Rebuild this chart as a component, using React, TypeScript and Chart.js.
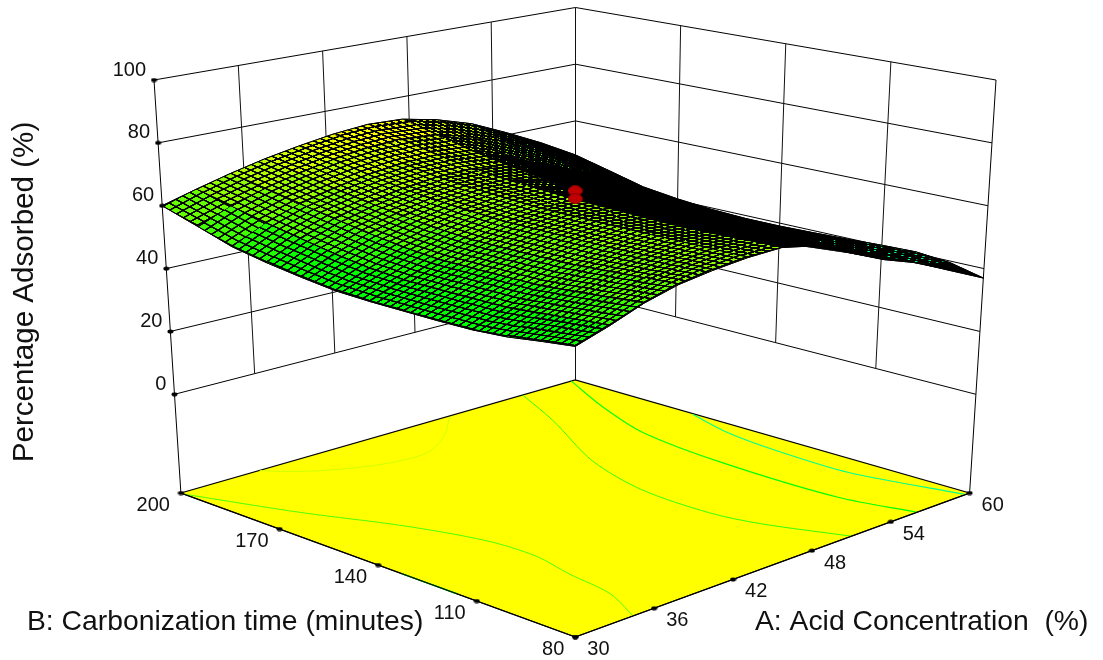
import React, { useEffect, useRef } from "react";
import { Chart, registerables } from "chart.js";

Chart.register(...registerables);

// ---- axis values
const acidTicks = [30, 36, 42, 48, 54, 60];
const timeTicks = [80, 110, 140, 170, 200];
const responseTicks = [0, 20, 40, 60, 80, 100];

// ---- surface heights (Percentage Adsorbed)
const acidGrid = [30, 32.5, 35, 37.5, 40, 42.5, 45, 47.5, 50, 52.5, 55, 57.5, 60];
const timeGrid = [80, 90, 100, 110, 120, 130, 140, 150, 160, 170, 180, 190, 200];
const zAt80 = [51.8, 55, 58.8, 61.5, 63, 64, 64.3, 62, 57, 52, 48, 42.5, 37];
const zAt90 = [50.5, 54, 57.7, 60.7, 62.7, 64, 63.9, 61.2, 56, 51.5, 47.7, 42.3, 39.5];
const zAt100 = [49, 53, 56.7, 60, 62.3, 63.9, 63.5, 59.8, 55, 50.9, 47.3, 42.2, 40.5];
const zAt110 = [48.2, 52, 55.8, 59.3, 62, 63.8, 63.2, 58.5, 54, 50.3, 47, 42, 40.2];
const zAt120 = [48, 51.9, 55.7, 59.1, 62, 63.7, 63.4, 58.9, 54.1, 50.3, 47, 42.1, 39.7];
const zAt130 = [48, 51.8, 55.6, 59, 62, 63.7, 63.7, 59.4, 54.4, 50.4, 47, 42.3, 39.3];
const zAt140 = [48, 51.8, 55.6, 59, 62, 63.7, 64, 60, 54.7, 50.5, 47, 42.5, 39];
const zAt150 = [48.3, 52.5, 56.5, 59.8, 62.6, 64.3, 64.6, 61.5, 56.3, 51.5, 47.6, 42.9, 39];
const zAt160 = [49.5, 54, 58, 61, 63.4, 65, 65.2, 63.2, 58.3, 53.3, 48.8, 44, 39.5];
const zAt170 = [51, 56, 59.8, 62.5, 64.5, 65.8, 66, 65, 60.5, 55.5, 50.5, 45.5, 40.5];
const zAt180 = [53, 58, 61.7, 64.2, 66.3, 67.6, 68, 67, 63, 58, 53, 47.8, 42];
const zAt190 = [56.5, 60.5, 63.7, 66.3, 68.5, 70, 70.4, 69.6, 66.5, 62.2, 56.8, 51, 45];
const zAt200 = [60, 63, 65.8, 68.3, 70.3, 72, 73, 72.5, 70, 66.3, 60.8, 54.8, 48];
const surfaceRows = [zAt80, zAt90, zAt100, zAt110, zAt120, zAt130, zAt140, zAt150, zAt160, zAt170, zAt180, zAt190, zAt200];

// ---- design points at the centre of the design
const designAcid = [45, 45];
const designTime = [140, 140];
const designResponse = [66.9, 64.4];

// ---- contour curves on the floor
const contour68Acid = [50.3, 47.8, 45, 42, 39.3, 37, 36];
const contour68Time = [199.5, 191, 185, 185.6, 189.7, 195.6, 200];
const contour58Acid = [30, 32.8, 35.4, 37, 37.2, 36.5, 35.9, 34.4];
const contour58Time = [199, 174.3, 154, 134.9, 120.7, 107.8, 93, 80];
const contour56Acid = [56, 53.9, 50.4, 48.8, 48.6, 49.2, 51];
const contour56Time = [200, 182.4, 156.4, 135, 113.6, 100.5, 80];
const contour48Acid = [59.7, 57.5, 55.8, 55, 55, 56];
const contour48Time = [200, 181.5, 162.8, 136, 100, 80];
const contour40Acid = [59.9, 58.9, 58.4, 58.3, 59.7];
const contour40Time = [163.8, 149.5, 132.3, 110, 80];
const contourEdgeAcid = [30, 30];
const contourEdgeTime = [133, 116];

// ---- text
const zTitle = "Percentage Adsorbed (%)";
const aTitle = "A: Acid Concentration  (%)";
const bTitle = "B: Carbonization time (minutes)";

const WIDTH = 1103;
const HEIGHT = 660;
const Z_FLOOR = -31.4;
const Z_TOP = 100;
const SUB_CELLS = 5;
const MESH_LINE = 1.6;

type Pt = { x: number; y: number };

// box corners on screen: the plot's pseudo perspective is trilinear
const FLOOR = { front: [575.3, 637], right: [969.6, 493], left: [180.9, 493], back: [575.3, 380] };
const TOP = { front: [575.3, 178], right: [996, 80], left: [154, 80], back: [575.5, 7.5] };

function bilinear(c: typeof FLOOR, u: number, v: number, k: number) {
  return (
    c.front[k] * (1 - u) * (1 - v) + c.right[k] * u * (1 - v) + c.left[k] * (1 - u) * v + c.back[k] * u * v
  );
}

function project(acid: number, time: number, z: number): Pt {
  const u = (acid - 30) / 30;
  const v = (time - 80) / 120;
  const t = (z - Z_FLOOR) / (Z_TOP - Z_FLOOR);
  return {
    x: bilinear(FLOOR, u, v, 0) * (1 - t) + bilinear(TOP, u, v, 0) * t,
    y: bilinear(FLOOR, u, v, 1) * (1 - t) + bilinear(TOP, u, v, 1) * t,
  };
}

function clamp01(n: number) {
  return Math.max(0, Math.min(1, n));
}

function heightColor(z: number) {
  const r = Math.round(255 * clamp01((z - 52) / 20));
  const b = Math.round(255 * clamp01((48 - z) / 14));
  const g = z < 40 ? 224 : 255;
  return `rgb(${r},${g},${b})`;
}

function cellPattern(ctx: CanvasRenderingContext2D, p00: Pt, p10: Pt, p01: Pt, p11: Pt, z: number) {
  const e1 = { x: (p10.x - p00.x + p11.x - p01.x) / 2 / SUB_CELLS, y: (p10.y - p00.y + p11.y - p01.y) / 2 / SUB_CELLS };
  const e2 = { x: (p01.x - p00.x + p11.x - p10.x) / 2 / SUB_CELLS, y: (p01.y - p00.y + p11.y - p10.y) / 2 / SUB_CELLS };
  const area = Math.abs(e1.x * e2.y - e1.y * e2.x) || 0.001;
  const gapAcrossE2 = area / Math.hypot(e1.x, e1.y);
  const gapAcrossE1 = area / Math.hypot(e2.x, e2.y);
  const T = 16;
  const tile = document.createElement("canvas");
  tile.width = T;
  tile.height = T;
  const g = tile.getContext("2d")!;
  g.fillStyle = heightColor(z);
  g.fillRect(0, 0, T, T);
  g.fillStyle = "#000";
  g.fillRect(0, 0, T, Math.min(T, (T * MESH_LINE) / gapAcrossE2));
  g.fillRect(0, 0, Math.min(T, (T * MESH_LINE) / gapAcrossE1), T);
  const pattern = ctx.createPattern(tile, "repeat")!;
  pattern.setTransform(new DOMMatrix([e1.x / T, e1.y / T, e2.x / T, e2.y / T, p00.x, p00.y]));
  return pattern;
}

function dotImage(w: number, h: number, fill: string, edge?: string) {
  const c = document.createElement("canvas");
  c.width = w;
  c.height = h;
  const g = c.getContext("2d")!;
  g.beginPath();
  g.ellipse(w / 2, h / 2, w / 2 - 0.5, h / 2 - 0.5, 0, 0, Math.PI * 2);
  g.fillStyle = fill;
  g.fill();
  if (edge) {
    g.strokeStyle = edge;
    g.lineWidth = 1;
    g.stroke();
  }
  return c;
}

function lineSet(data: Pt[], color: string, width = 1) {
  return {
    type: "scatter" as const,
    data,
    showLine: true,
    borderColor: color,
    borderWidth: width,
    pointRadius: 0,
    tension: 0,
    fill: false,
    clip: false,
  };
}

function contourSet(acid: number[], time: number[], level: number, width = 1) {
  const pts = acid.map((a, i) => project(a, time[i], Z_FLOOR));
  return { ...lineSet(pts, heightColor(level), width), tension: 0.3 };
}

const textPlugin = {
  id: "boxText",
  afterDraw(chart: any) {
    const { ctx, scales } = chart;
    const px = (p: Pt) => ({ x: scales.x.getPixelForValue(p.x), y: scales.y.getPixelForValue(p.y) });
    ctx.save();
    ctx.fillStyle = "#111";
    ctx.textBaseline = "middle";
    ctx.font = "20px 'Liberation Sans', Arial, sans-serif";
    ctx.textAlign = "right";
    responseTicks.forEach((z) => {
      const p = px(project(30, 200, z));
      ctx.fillText(String(z), p.x - 8, p.y - 10);
    });
    timeTicks.forEach((t) => {
      const p = px(project(30, t, Z_FLOOR));
      ctx.fillText(String(t), p.x - 11, p.y + 12);
    });
    ctx.textAlign = "left";
    acidTicks.forEach((a) => {
      const p = px(project(a, 80, Z_FLOOR));
      ctx.fillText(String(a), p.x + 12, p.y + 12.5);
    });
    ctx.font = "28.3px 'Liberation Sans', Arial, sans-serif";
    ctx.fillText(bTitle, 27, 622);
    ctx.fillText(aTitle, 755, 622);
    ctx.font = "29.6px 'Liberation Sans', Arial, sans-serif";
    ctx.translate(25, 292);
    ctx.rotate(-Math.PI / 2);
    ctx.textAlign = "center";
    ctx.fillText(zTitle, 0, 0);
    ctx.restore();
  },
};

export default function App() {
  const ref = useRef<HTMLCanvasElement | null>(null);
  useEffect(() => {
    document.body.style.margin = "0";
    const canvas = ref.current!;
    const ctx = canvas.getContext("2d")!;
    const drawn: any[] = []; // back to front

    // walls
    responseTicks.forEach((z) => {
      drawn.push(lineSet([project(30, 200, z), project(60, 200, z), project(60, 80, z)], "#000", 1));
    });
    acidTicks.slice(1, -1).forEach((a) => {
      drawn.push(lineSet([project(a, 200, 0), project(a, 200, 100)], "#111", 1));
    });
    timeTicks.slice(1, -1).forEach((t) => {
      drawn.push(lineSet([project(60, t, 0), project(60, t, 100)], "#111", 1));
    });
    drawn.push(lineSet([project(30, 200, Z_FLOOR), project(30, 200, 100)], "#000", 1));
    drawn.push(lineSet([project(60, 200, Z_FLOOR), project(60, 200, 100)], "#111", 1));
    drawn.push(lineSet([project(60, 80, Z_FLOOR), project(60, 80, 100)], "#000", 1));

    // floor
    const corners = [project(30, 80, Z_FLOOR), project(60, 80, Z_FLOOR), project(60, 200, Z_FLOOR), project(30, 200, Z_FLOOR), project(30, 80, Z_FLOOR)];
    drawn.push({ ...lineSet(corners, "#000", 1.3), fill: "shape", backgroundColor: "#ffff00" });
    drawn.push(contourSet(contour68Acid, contour68Time, 68, 0.9));
    drawn.push(contourSet(contour58Acid, contour58Time, 58));
    drawn.push(contourSet(contour56Acid, contour56Time, 56));
    drawn.push(contourSet(contour48Acid, contour48Time, 48, 1.1));
    drawn.push(contourSet(contour40Acid, contour40Time, 40, 1.1));
    drawn.push(contourSet(contourEdgeAcid, contourEdgeTime, 48, 1.5));
    drawn.push(lineSet([corners[0], corners[3]], "#000", 1.2));
    drawn.push(lineSet([corners[0], corners[1]], "#000", 1.2));

    // surface, far cells first
    const at = (i: number, j: number) => project(acidGrid[i], timeGrid[j], surfaceRows[j][i]);
    const outline: Pt[] = [];
    const last = acidGrid.length - 1;
    for (let i = 0; i <= last; i++) outline.push(at(i, 0));
    for (let j = 1; j <= last; j++) outline.push(at(last, j));
    for (let i = last - 1; i >= 0; i--) outline.push(at(i, last));
    for (let j = last - 1; j >= 0; j--) outline.push(at(0, j));
    drawn.push({ ...lineSet(outline, "#000", 1), fill: "shape", backgroundColor: "#000" });
    const order: [number, number][] = [];
    for (let i = 0; i < last; i++) for (let j = 0; j < last; j++) order.push([i, j]);
    order.sort((a, b) => b[0] + b[1] - a[0] - a[1]);
    order.forEach(([i, j]) => {
      const p00 = at(i, j);
      const p10 = at(i + 1, j);
      const p01 = at(i, j + 1);
      const p11 = at(i + 1, j + 1);
      const mean = (surfaceRows[j][i] + surfaceRows[j][i + 1] + surfaceRows[j + 1][i] + surfaceRows[j + 1][i + 1]) / 4;
      drawn.push({
        ...lineSet([p00, p10, p11, p01, p00], "rgba(0,0,0,0)", 0),
        fill: "shape",
        backgroundColor: cellPattern(ctx, p00, p10, p01, p11, mean),
      });
    });
    drawn.push(lineSet(outline, "#000", 1));

    // design points
    drawn.push({
      type: "scatter" as const,
      data: designAcid.map((a, i) => project(a, designTime[i], designResponse[i])),
      showLine: false,
      pointRadius: 7,
      pointStyle: dotImage(15, 11, "#c00000", "#8f0000"),
      clip: false,
    });

    // tick dots
    const dot = dotImage(7, 5, "#000");
    const tickPts = [
      ...responseTicks.map((z) => project(30, 200, z)),
      ...timeTicks.map((t) => project(30, t, Z_FLOOR)),
      ...acidTicks.map((a) => project(a, 80, Z_FLOOR)),
    ];
    drawn.push({ type: "scatter" as const, data: tickPts, showLine: false, pointRadius: 3, pointStyle: dot, clip: false });

    const chart = new Chart(canvas, {
      type: "scatter",
      data: { datasets: drawn.reverse() },
      options: {
        animation: false,
        responsive: false,
        devicePixelRatio: 1,
        layout: { padding: 0, autoPadding: false },
        plugins: { legend: { display: false }, tooltip: { enabled: false } },
        scales: {
          x: { type: "linear", min: 0, max: WIDTH, display: false },
          y: { type: "linear", min: 0, max: HEIGHT, reverse: true, display: false },
        },
      },
      plugins: [textPlugin],
    } as any);
    return () => chart.destroy();
  }, []);
  return <canvas ref={ref} width={WIDTH} height={HEIGHT} style={{ display: "block" }} />;
}
